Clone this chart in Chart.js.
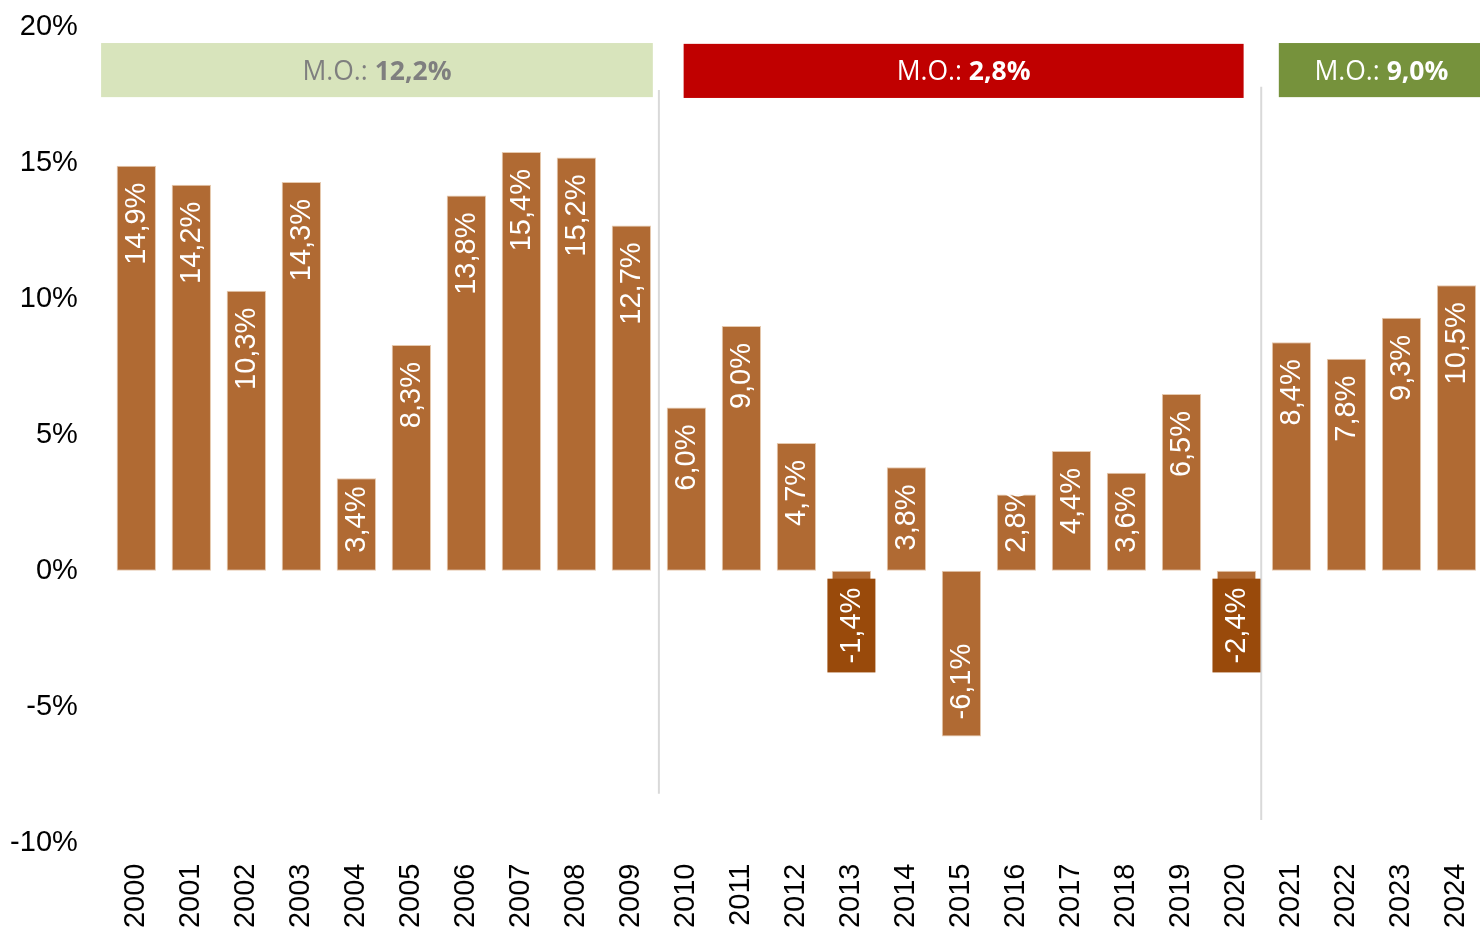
<!DOCTYPE html>
<html><head><meta charset="utf-8">
<script src="https://cdn.jsdelivr.net/npm/chart.js@4.4.1/dist/chart.umd.min.js"></script>
<style>html,body{margin:0;padding:0;overflow:hidden;background:#fff}#wrap{width:1490px;height:933px;position:relative}</style>
</head><body><div id="wrap"><canvas id="c" width="1490" height="933"></canvas></div>
<script>
const years = ['2000','2001','2002','2003','2004','2005','2006','2007','2008','2009','2010','2011','2012','2013','2014','2015','2016','2017','2018','2019','2020','2021','2022','2023','2024'];
const growth = [14.9,14.2,10.3,14.3,3.4,8.3,13.8,15.4,15.2,12.7,6.0,9.0,4.7,-1.4,3.8,-6.1,2.8,4.4,3.6,6.5,-2.4,8.4,7.8,9.3,10.5];
const periodValues = ['12,2%','2,8%','9,0%'];
const periodStart = [-0.64, 9.95, 20.77];
const periodEnd = [9.39, 20.13, 24.5];
const periodTop = [19.41, 19.38, 19.41];
const periodBottom = [17.42, 17.39, 17.42];
const periodFill = ['#D8E4BC','#C00000','#76923C'];
const periodTextColor = ['#7F7F7F','#FFFFFF','#FFFFFF'];
const dividerX = [9.5, 20.45];
const dividerTop = [17.68, 17.8];
const dividerBottom = [-8.21, -9.17];

const FONT = '"Liberation Sans", Arial, sans-serif';
const BAR = '#B06A33';
const BOX = '#994A0B';

function fmt(v){ return v.toFixed(1).replace('.', ',') + '%'; }

const dividers = {
  id: 'dividers',
  beforeDatasetsDraw(chart){
    const {ctx, scales:{x,y}} = chart;
    ctx.save();
    ctx.strokeStyle = '#D9D9D9';
    ctx.lineWidth = 2;
    dividerX.forEach((d,i)=>{
      const px = x.getPixelForValue(d);
      ctx.beginPath();
      ctx.moveTo(px, y.getPixelForValue(dividerTop[i]));
      ctx.lineTo(px, y.getPixelForValue(dividerBottom[i]));
      ctx.stroke();
    });
    ctx.restore();
  }
};

const labels = {
  id: 'barLabels',
  afterDatasetsDraw(chart){
    const {ctx} = chart;
    const meta = chart.getDatasetMeta(0);
    ctx.save();
    ctx.font = '29px ' + FONT;
    meta.data.forEach((bar,i)=>{
      const v = growth[i];
      const txt = fmt(v);
      const len = ctx.measureText(txt).width;
      const base = bar.base, tip = bar.y;
      let start, end, boxed = false;
      if (v >= 0){
        end = tip + 17; start = end + len;
        if (start > base - 18){ start = base - 18; end = start - len; }
      } else {
        start = tip - 17; end = start - len;
        if (end < base + 17){ end = base + 17; start = end + len; }
        if (start > tip) boxed = true;
      }
      if (boxed){
        ctx.fillStyle = BOX;
        ctx.fillRect(bar.x - 24, end - 9, 48, (start - end) + 18);
      }
      ctx.save();
      ctx.translate(bar.x + 1, start);
      ctx.rotate(-Math.PI/2);
      ctx.fillStyle = '#FFFFFF';
      ctx.textAlign = 'left';
      ctx.textBaseline = 'middle';
      ctx.fillText(txt, 0, 0);
      ctx.restore();
    });
    ctx.restore();
  }
};

const periods = {
  id: 'periods',
  afterDraw(chart){
    const {ctx, scales:{x,y}} = chart;
    ctx.save();
    const fs = 26.5;
    periodValues.forEach((val,i)=>{
      const x0 = x.getPixelForValue(periodStart[i]);
      const x1 = x.getPixelForValue(periodEnd[i]);
      const y0 = y.getPixelForValue(periodTop[i]);
      const y1 = y.getPixelForValue(periodBottom[i]);
      ctx.fillStyle = periodFill[i];
      ctx.fillRect(x0, y0, x1 - x0, y1 - y0);
      const a = 'M.O.: ';
      ctx.font = fs + 'px "Open Sans", sans-serif';
      const wa = ctx.measureText(a).width;
      ctx.font = 'bold ' + fs + 'px "Open Sans", sans-serif';
      const wb = ctx.measureText(val).width;
      const cx = (x0 + x1) / 2;
      const base = (y0 + y1) / 2 + fs * 0.714 / 2;
      let sx = cx - (wa + wb) / 2;
      ctx.fillStyle = periodTextColor[i];
      ctx.textAlign = 'left';
      ctx.textBaseline = 'alphabetic';
      ctx.font = fs + 'px "Open Sans", sans-serif';
      ctx.fillText(a, sx, base);
      ctx.font = 'bold ' + fs + 'px "Open Sans", sans-serif';
      ctx.fillText(val, sx + wa, base);
    });
    ctx.restore();
  }
};

new Chart(document.getElementById('c'), {
  type: 'bar',
  data: {
    labels: years,
    datasets: [{
      data: growth,
      backgroundColor: BAR,
      borderColor: '#E6C9AE',
      borderWidth: 1,
      borderSkipped: false,
      categoryPercentage: 1,
      barPercentage: 0.715
    }]
  },
  options: {
    responsive: false,
    animation: false,
    layout: { padding: { top: 27, right: 6, left: 0, bottom: 0 } },
    plugins: { legend: { display: false }, tooltip: { enabled: false } },
    scales: {
      x: {
        grid: { display: false, drawTicks: false },
        border: { display: false },
        ticks: { color: '#000', font: { family: FONT, size: 29 }, maxRotation: 90, minRotation: 90, padding: 21, autoSkip: false },
        afterFit(s){ s.height = 90.5; s.paddingLeft = 0; s.paddingRight = 0; }
      },
      y: {
        min: -10, max: 20,
        grid: { display: false, drawTicks: false },
        border: { display: false },
        ticks: { stepSize: 5, color: '#000', font: { family: FONT, size: 29 }, padding: 31, callback: v => v + '%' },
        afterFit(s){ s.width = 108.8; s.paddingTop = 0; s.paddingBottom = 0; }
      }
    }
  },
  plugins: [dividers, labels, periods]
});
</script>
</body></html>
